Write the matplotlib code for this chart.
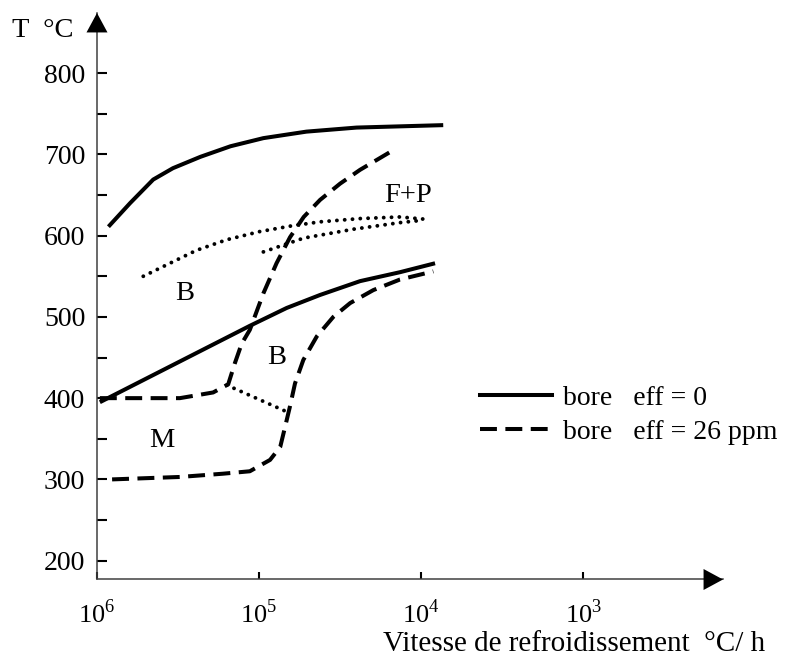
import matplotlib.pyplot as plt
from matplotlib.lines import Line2D

plt.rcParams['font.family'] = ['Liberation Serif', 'DejaVu Serif']
plt.rcParams['mathtext.fontset'] = 'custom'
plt.rcParams['mathtext.rm'] = 'Liberation Serif'

# vitesse de refroidissement (°C/h) et temperature (°C) lues sur la figure
# bore eff = 0 : debut F+P (haut) et debut B (bas)
v_fp0 = [8.5e5, 6.25e5, 4.5e5, 3.4e5, 2.3e5, 1.5e5, 9.4e4, 5.1e4, 2.5e4, 7.3e3]
T_fp0 = [611, 640, 669, 683, 697, 710, 720, 728, 733, 736]
v_b0 = [9.6e5, 1.14e5, 6.75e4, 4.2e4, 2.38e4, 1.35e4, 8.2e3]
T_b0 = [395, 489, 511, 527, 544, 555, 566]

# bore eff = 26 ppm
v_fp26 = [9.6e5, 3.08e5, 1.92e5, 1.55e5, 1.41e5, 1.28e5, 1.14e5, 9.4e4, 7.8e4,
          6.44e4, 5.3e4, 4.2e4, 3.16e4, 2.38e4, 1.55e4]
T_fp26 = [400, 400, 407, 417, 443, 467, 484, 529, 566, 598, 623, 644, 664, 681, 703]
v_b26 = [8.07e5, 3.08e5, 1.67e5, 1.14e5, 8.55e4, 7.4e4, 6.9e4, 6.44e4, 6.0e4,
         5.33e4, 4.4e4, 3.48e4, 2.74e4, 1.97e4, 1.35e4, 8.4e3]
T_b26 = [300, 303, 307, 310, 324, 340, 365, 390, 418, 447, 476, 500, 517, 533,
         546, 556]

# courbes pointillees
v_pt1 = [5.18e5, 3.72e5, 2.43e5, 1.58e5, 9.9e4, 6.3e4, 4.2e4, 2.38e4, 1.35e4, 9.2e3]
T_pt1 = [550, 564, 582, 595, 605, 612, 617, 621, 623, 620]
v_pt2 = [9.4e4, 5.3e4, 2.6e4, 1.35e4, 9.7e3]
T_pt2 = [580, 597, 608, 616, 619]
v_pt3 = [1.58e5, 6.7e4]
T_pt3 = [416, 383]

# domaines
labels = ['F+P', 'B', 'B', 'M']
lab_v = [1.2e4, 2.87e5, 7.75e4, 3.97e5]
lab_T = [650, 529, 450, 348]

yticks = [200, 300, 400, 500, 600, 700, 800]
yminor = [250, 350, 450, 550, 650, 750]
xticks = [1e6, 1e5, 1e4, 1e3]
xticklabels = ['$10^6$', '$10^5$', '$10^4$', '$10^3$']

fig = plt.figure(figsize=(7.87, 6.6), dpi=100)
ax = fig.add_axes([0.12325, 0.12197, 0.79543, 0.85833])

lw = 2.9
tirets = (4.2, 2.1)
ax.plot(v_fp0, T_fp0, 'k-', lw=lw, solid_capstyle='butt')
ax.plot(v_b0, T_b0, 'k-', lw=lw, solid_capstyle='butt')
ax.plot(v_fp26, T_fp26, 'k-', lw=lw, dashes=tirets)
ax.plot(v_b26, T_b26, 'k-', lw=lw, dashes=tirets)
for vv, tt in [(v_pt1, T_pt1), (v_pt2, T_pt2), (v_pt3, T_pt3)]:
    ax.plot(vv, tt, 'k', lw=2.8, linestyle=(0, (0.01, 2.0)), dash_capstyle='round')

for s, vv, tt in zip(labels, lab_v, lab_T):
    ax.text(vv, tt, s, fontsize=20.5, ha='center', va='center')

ax.set_xscale('log')
ax.set_xlim(1e6, 137)
ax.set_ylim(176.8, 874)

ax.spines['top'].set_visible(False)
ax.spines['right'].set_visible(False)
for sp in ['left', 'bottom']:
    ax.spines[sp].set_color('#404040')
    ax.spines[sp].set_linewidth(1.1)

ax.set_yticks(yticks)
ax.set_yticks(yminor, minor=True)
ax.set_xticks(xticks)
ax.set_xticklabels(xticklabels)
ax.xaxis.set_minor_locator(plt.NullLocator())
ax.tick_params(axis='y', which='both', direction='in', length=7.2, width=1.5,
               labelsize=20, pad=8.5)
ax.tick_params(axis='x', which='major', direction='in', length=5, width=1.5,
               labelsize=19, pad=14)

# fleches des axes
arr = dict(arrowstyle='-|>,head_length=0.5,head_width=0.27', color='k',
           shrinkA=0, shrinkB=0, mutation_scale=28, lw=0)
ax.annotate('', xy=(1, 0), xytext=(0.97, 0), xycoords='axes fraction', arrowprops=arr)
ax.annotate('', xy=(0, 1), xytext=(0, 0.97), xycoords='axes fraction', arrowprops=arr)

fig.text(12 / 787, 1 - 37 / 660, 'T  °C', fontsize=20.5, ha='left', va='baseline')
fig.text(383 / 787, 1 - 651 / 660, 'Vitesse de refroidissement  °C/ h',
         fontsize=21, ha='left', va='baseline')

handles = [Line2D([], [], color='k', lw=lw),
           Line2D([], [], color='k', lw=lw, dashes=tirets)]
ax.legend(handles, ['bore   eff = 0', 'bore   eff = 26 ppm'], frameon=False,
          fontsize=20, loc='center left', bbox_to_anchor=(480 / 787, 1 - 415 / 660),
          bbox_transform=fig.transFigure, borderpad=0, borderaxespad=0,
          handlelength=2.6, handletextpad=0.4, labelspacing=0.32)

fig.savefig('out.png', dpi=100)
